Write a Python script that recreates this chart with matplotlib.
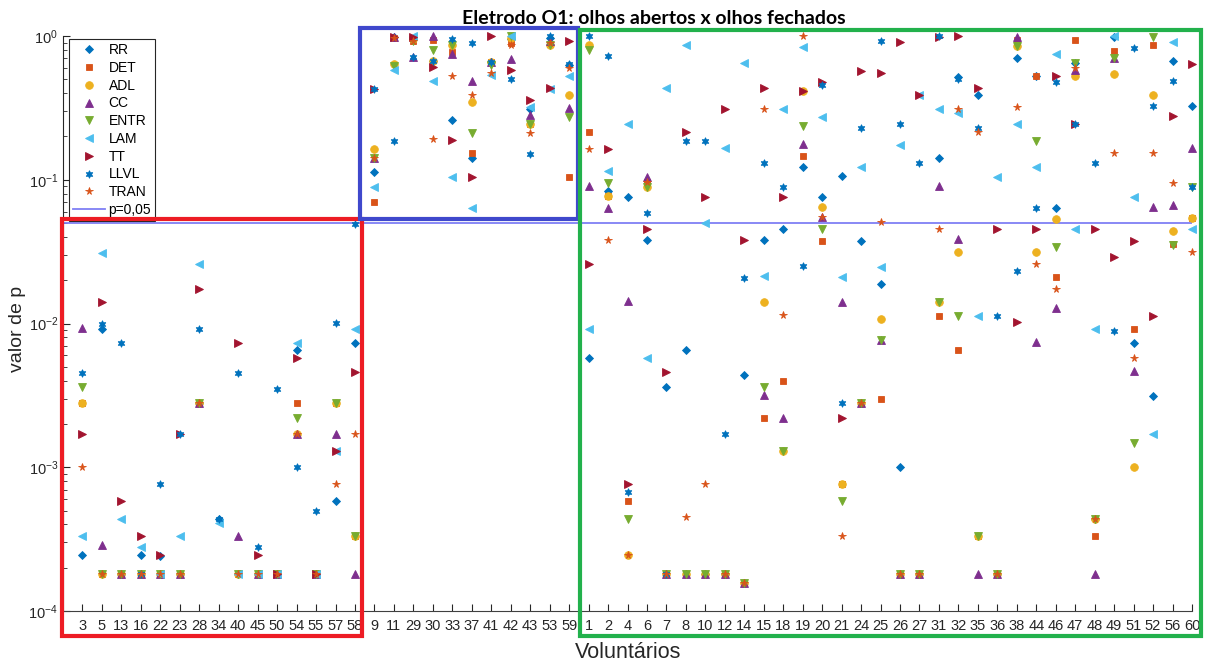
import numpy as np
import matplotlib
matplotlib.use("Agg")
import matplotlib.pyplot as plt
from matplotlib.patches import Rectangle
from matplotlib.ticker import LogLocator, LogFormatterSciNotation, NullFormatter

plt.rcParams["font.family"] = ["Liberation Sans", "DejaVu Sans"]
plt.rcParams["mathtext.fontset"] = "custom"
plt.rcParams["mathtext.rm"] = "Liberation Sans"
plt.rcParams["mathtext.it"] = "Liberation Sans:italic"

# Volunteers, ordered in three groups
voluntarios = ["3", "5", "13", "16", "22", "23", "28", "34", "40", "45", "50", "54", "55", "57", "58",
               "9", "11", "29", "30", "33", "37", "41", "42", "43", "53", "59",
               "1", "2", "4", "6", "7", "8", "10", "12", "14", "15", "18", "19", "20", "21", "24", "25",
               "26", "27", "31", "32", "35", "36", "38", "44", "46", "47", "48", "49", "51", "52", "56", "60"]

F = 1.8e-4
G = 1.56e-4
N = np.nan

RR = [2.45e-4, 9.1e-3, F, 2.45e-4, 2.4e-4, F, 2.8e-3, 4.4e-4, F, F, F, 6.5e-3, F, 5.8e-4, 7.3e-3,
      0.113, 0.98, 0.95, 0.67, 0.26, 0.142, 0.66, 0.95, 0.31, 0.97, 0.63,
      5.8e-3, 0.083, 0.076, 0.038, 3.6e-3, 6.5e-3, F, F, 4.4e-3, 0.038, 0.0454, 0.123, 0.076, 0.106,
      0.0377, 0.0188, 1.0e-3, F, 0.142, 0.52, 0.389, F, 0.706, 0.527, 0.064, 0.65, 4.4e-4, 0.98,
      7.3e-3, 3.15e-3, 0.67, 0.327]
DET = [2.8e-3, F, F, F, F, F, 2.8e-3, N, F, F, F, 2.8e-3, F, 2.8e-3, 3.3e-4,
       0.070, 0.97, 0.93, 0.94, 0.77, 0.153, 0.66, 0.89, 0.245, 0.88, 0.105,
       0.214, 0.0775, 5.8e-4, 0.097, F, F, F, F, G, 2.2e-3, 4.0e-3, 0.146, 0.0377, 7.7e-4,
       2.8e-3, 3.0e-3, F, F, 0.0113, 6.5e-3, 3.3e-4, F, 0.94, 0.527, 0.021, 0.94, 3.3e-4, 0.787,
       9.1e-3, 0.86, 0.036, 0.0546]
ADL = [2.8e-3, F, F, F, F, F, 2.8e-3, N, F, F, F, 1.7e-3, F, 2.8e-3, 3.3e-4,
       0.164, 0.636, 0.95, 0.67, 0.87, 0.349, 0.66, 0.97, 0.245, 0.87, 0.389,
       0.87, 0.0775, 2.45e-4, 0.089, F, F, F, F, G, 0.0141, 1.3e-3, 0.415, 0.0643, 7.7e-4,
       2.8e-3, 0.0107, F, F, 0.014, 0.0313, 3.3e-4, F, 0.85, 0.0313, 0.0537, 0.527, 4.4e-4, 0.544,
       1.0e-3, 0.389, 0.0438, 0.0546]
CC = [9.3e-3, 2.9e-4, F, F, F, F, 2.8e-3, N, 3.3e-4, F, F, 1.7e-3, F, 1.7e-3, F,
      0.142, 0.98, 0.71, 1.0, 0.75, 0.486, 0.66, 0.69, 0.282, 0.93, 0.314,
      0.091, 0.064, 0.0143, 0.105, F, F, F, F, G, 3.2e-3, 2.2e-3, 0.176, 0.0548, 0.0141,
      2.8e-3, 7.7e-3, F, F, 0.091, 0.0385, F, F, 0.98, 7.4e-3, 0.0128, 0.58, F, 0.70,
      4.7e-3, 0.065, 0.0667, 0.165]
ENTR = [3.6e-3, F, F, F, F, F, 2.8e-3, N, F, F, F, 2.2e-3, F, 2.8e-3, 3.3e-4,
        0.142, 0.62, 0.93, 0.80, 0.87, 0.212, 0.63, 1.0, 0.244, 0.87, 0.272,
        0.80, 0.0945, 4.4e-4, 0.089, F, F, F, F, G, 3.6e-3, 1.3e-3, 0.237, 0.0452, 5.8e-4,
        2.8e-3, 7.7e-3, F, F, 0.014, 0.0113, 3.3e-4, F, 0.85, 0.186, 0.0342, 0.65, 4.4e-4, 0.706,
        1.48e-3, 0.98, 0.0353, 0.089]
LAM = [3.3e-4, 0.031, 4.4e-4, 2.8e-4, F, 3.3e-4, 0.026, 4.1e-4, F, F, F, 7.3e-3, F, 1.3e-3, 9.2e-3,
       0.089, 0.58, 1.0, 0.49, 0.105, 0.064, 0.535, 1.0, 0.319, 0.43, 0.527,
       9.2e-3, 0.115, 0.244, 5.8e-3, 0.433, 0.87, 0.0498, 0.165, 0.652, 0.0214, 0.31, 0.834, 0.275, 0.0212,
       0.122, 0.0246, 0.174, 0.389, 0.31, 0.29, 0.0113, 0.105, 0.244, 0.122, 0.746, 0.0454, 9.2e-3, 1.0,
       0.076, 1.7e-3, 0.91, 0.0454]
TT = [1.7e-3, 0.014, 5.8e-4, 3.3e-4, 2.45e-4, 1.7e-3, 0.0174, N, 7.3e-3, 2.45e-4, F, 5.8e-3, F, 1.3e-3, 4.6e-3,
      0.43, 0.98, 0.99, 0.61, 0.19, 0.105, 1.0, 0.58, 0.36, 0.433, 0.92,
      0.0259, 0.163, 7.6e-4, 0.0454, 4.6e-3, 0.214, 0.076, 0.31, 0.038, 0.433, 0.076, 0.415, 0.481, 2.2e-3,
      0.574, 0.55, 0.91, 0.389, 0.98, 1.0, 0.433, 0.0454, 0.0102, 0.0454, 0.527, 0.244, 0.0454, 0.0289,
      0.0377, 0.0113, 0.279, 0.636]
LLVL = [4.5e-3, 0.010, 7.3e-3, F, 7.6e-4, 1.7e-3, 9.1e-3, 4.4e-4, 4.5e-3, 2.8e-4, 3.5e-3, 1.0e-3, 5.0e-4, 0.0101, 0.049,
        0.43, 0.187, 0.71, 0.67, 0.95, 0.89, 0.66, 0.50, 0.150, 1.0, 0.636,
        1.0, 0.726, 6.7e-4, 0.059, F, 0.187, 0.187, 1.7e-3, 0.0208, 0.131, 0.0886, 0.0251, 0.456, 2.8e-3,
        0.228, 0.93, 0.243, 0.131, 1.0, 0.50, 0.228, 0.0113, 0.0233, 0.064, 0.476, 0.244, 0.130, 8.8e-3,
        0.83, 0.327, 0.486, 0.089]
TRAN = [1.0e-3, F, F, F, F, F, 2.8e-3, N, F, F, F, 1.7e-3, F, 7.7e-4, 1.7e-3,
        0.142, 0.97, 0.93, 0.192, 0.527, 0.389, 0.55, 0.87, 0.212, 0.9, 0.60,
        0.164, 0.038, 2.45e-4, 0.097, F, 4.5e-4, 7.7e-4, F, G, 0.31, 0.0115, 1.0, 0.055, 3.3e-4,
        2.8e-3, 0.0506, F, F, 0.0452, 0.31, 0.214, F, 0.319, 0.0259, 0.0173, 0.6, 4.4e-4, 0.153,
        5.8e-3, 0.153, 0.0954, 0.0313]

series = [
    ("RR", RR, "#0072BD", "D", 4.5),
    ("DET", DET, "#D95319", "s", 4.5),
    ("ADL", ADL, "#EDB120", "o", 5.5),
    ("CC", CC, "#7E2F8E", "^", 5.5),
    ("ENTR", ENTR, "#77AC30", "v", 5.5),
    ("LAM", LAM, "#4DBEEE", "<", 5.5),
    ("TT", TT, "#A2142F", ">", 5.5),
    ("LLVL", LLVL, "#0072BD", (6, 1, 0), 5.5),
    ("TRAN", TRAN, "#D95319", "*", 5.5),
]

W, H = 1205, 664
fig = plt.figure(figsize=(W / 100, H / 100), dpi=100)
ax = fig.add_axes([63 / W, 53 / H, 1129 / W, 575 / H])

x = np.arange(1, len(voluntarios) + 1)
handles = []
for name, vals, color, marker, ms in series:
    h, = ax.plot(x, vals, linestyle="none", marker=marker, color=color, markersize=ms,
                 markeredgewidth=0.6, label=name, clip_on=False, zorder=3)
    handles.append(h)

pline = ax.axhline(0.05, color="#7f7ff5", lw=1.3, label="p=0,05", zorder=2)
handles.append(pline)

ax.set_yscale("log")
ax.set_ylim(1e-4, 1)
ax.set_xlim(0, len(voluntarios))
ax.set_xticks(x)
ax.set_xticklabels(voluntarios)
ax.yaxis.set_major_locator(LogLocator(base=10, numticks=10))
ax.yaxis.set_major_formatter(LogFormatterSciNotation())
ax.yaxis.set_minor_locator(LogLocator(base=10, subs=np.arange(2, 10), numticks=50))
ax.yaxis.set_minor_formatter(NullFormatter())

for side in ("top", "right"):
    ax.spines[side].set_visible(False)
ax.spines["left"].set_color("#262626")
ax.spines["bottom"].set_color("#404040")
ax.tick_params(axis="both", which="major", direction="in", length=5, width=0.8,
               colors="#262626", labelsize=10.5)
ax.tick_params(axis="y", which="minor", direction="in", length=3, width=0.6, colors="#262626")
ax.tick_params(axis="x", pad=6)

leg = ax.legend(handles=handles, loc="upper left", bbox_to_anchor=(69 / W, 1 - 39 / H),
                bbox_transform=fig.transFigure, fontsize=10, frameon=True, fancybox=False,
                edgecolor="#262626", framealpha=1, labelspacing=0.27, borderpad=0.3,
                handlelength=2.3, handletextpad=0.25, borderaxespad=0)
leg.get_frame().set_linewidth(0.8)

fig.text(654 / W, 1 - 18 / H, "Eletrodo O1: olhos abertos x olhos fechados", ha="center",
         va="center", fontsize=14, fontweight="bold", family="Lato", color="black")
fig.text(628 / W, 1 - 652 / H, "Voluntários", ha="center", va="center", fontsize=15.5, color="#262626")
fig.text(17 / W, 1 - 329 / H, "valor de p", ha="center", va="center", rotation=90,
         fontsize=14, color="#262626")

# Group frames
for (x0, y0, x1, y1, col) in [(62, 219, 362, 636, "#ED1C24"),
                              (360, 28, 578, 219, "#3F48CC"),
                              (580, 30, 1201, 636, "#22B14C")]:
    fig.add_artist(Rectangle((x0 / W, 1 - y1 / H), (x1 - x0) / W, (y1 - y0) / H, fill=False,
                             edgecolor=col, lw=3, transform=fig.transFigure, zorder=10))

fig.savefig("out.png", dpi=100)
